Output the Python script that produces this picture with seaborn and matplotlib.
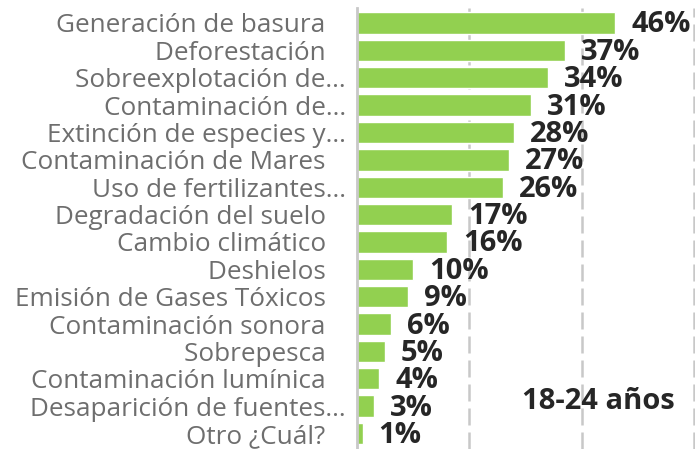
import numpy as np
import matplotlib
matplotlib.use('Agg')
import matplotlib.pyplot as plt
import seaborn as sns
import pandas

# Data
categorias = ["Generación de basura   ", "Deforestación   ", "Sobreexplotación de...",
              "Contaminación de...", "Extinción de especies y...", "Contaminación de Mares   ",
              "Uso de fertilizantes...", "Degradación del suelo   ", "Cambio climático   ",
              "Deshielos   ", "Emisión de Gases Tóxicos   ", "Contaminación sonora   ",
              "Sobrepesca   ", "Contaminación lumínica   ", "Desaparición de fuentes...",
              "Otro ¿Cuál?   "]
porcentajes = [46, 37, 34, 31, 28, 27, 26, 17, 16, 10, 9, 6, 5, 4, 3, 1]
grupo = "18-24 años"


def plotGraph():
  df = pandas.DataFrame({"cat": categorias, "pct": porcentajes})
  sns.set_style("white")
  plt.rcParams['font.family'] = ['Open Sans', 'DejaVu Sans']

  fig = plt.figure(figsize=(6.95, 4.49), dpi=100)
  ax = fig.add_axes([357/695, 0, (694-357)/695, 1-8/449])
  sns.barplot(data=df, x="pct", y="cat", orient="h", color="#92D050",
              width=0.78, saturation=1, ax=ax)

  ax.set_xlim(0, 60)
  ax.set_ylim(15.566, -0.548)
  ax.set_xticks([20, 40, 60])
  ax.set_xticklabels([])
  ax.grid(False)
  for gx in [20, 40, 60]:
    ax.axvline(gx, color="#c8c8c8", lw=1.8, ls=(0, (6.8, 2.8)), zorder=0, clip_on=False)
  ax.tick_params(axis='both', length=0)
  ax.tick_params(axis='y', labelsize=18.8, labelcolor="#6e6e6e", pad=8)
  ax.set_xlabel("")
  ax.set_ylabel("")
  for s in ["top", "right", "bottom"]:
    ax.spines[s].set_visible(False)
  ax.spines["left"].set_color("#c8c8c8")
  ax.spines["left"].set_linewidth(2)

  for i, v in enumerate(porcentajes):
    ax.annotate(f"{v}%", xy=(v, i), xytext=(16, -2), textcoords="offset pixels",
                ha="left", va="center", fontsize=21, fontweight="bold",
                color="#262626", annotation_clip=False)

  ax.text(0.715, 0.107, grupo, transform=ax.transAxes, ha="center", va="center",
          fontsize=21, fontweight="bold", color="#262626")

  plt.savefig("out.png", dpi=100)


if __name__ == "__main__":
  plotGraph()
